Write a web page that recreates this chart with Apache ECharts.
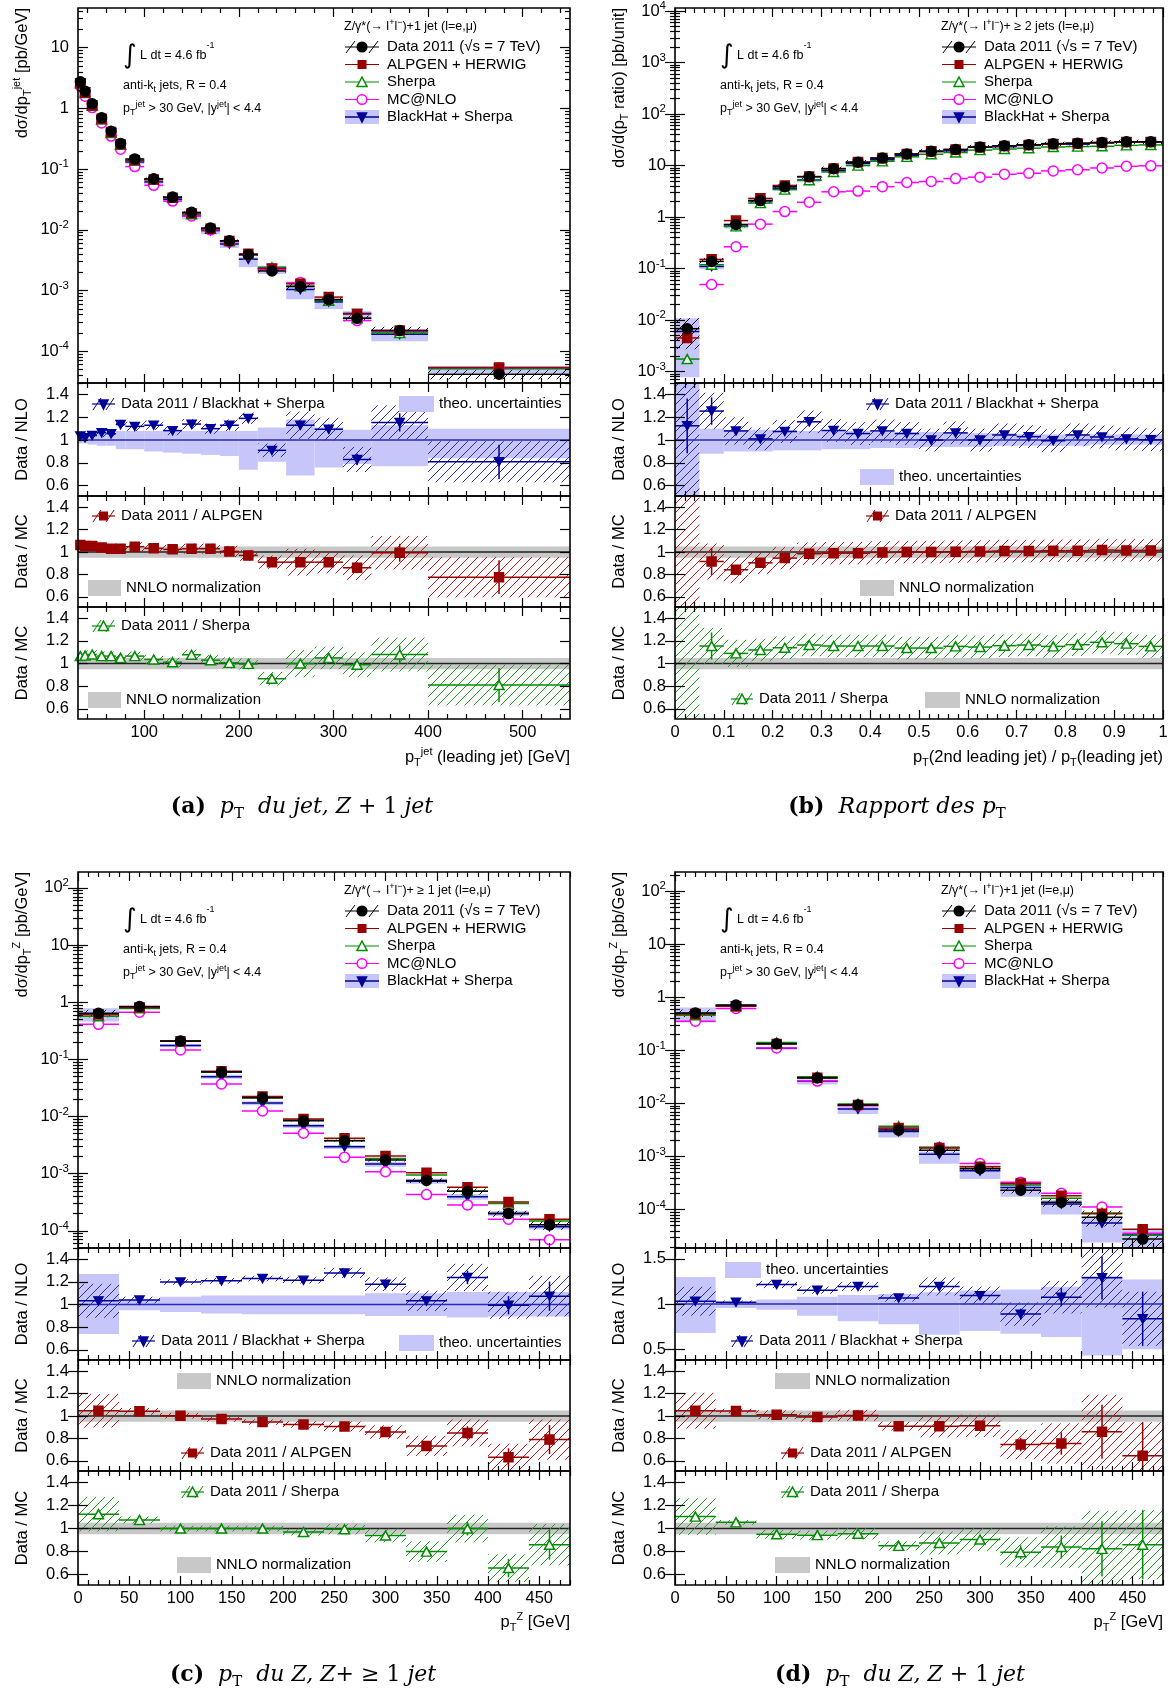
<!DOCTYPE html>
<html><head><meta charset="utf-8">
<script src="https://cdn.jsdelivr.net/npm/echarts@6/dist/echarts.min.js"></script>
<style>html,body{margin:0;padding:0;background:#fff}#c{width:1173px;height:1690px}</style>
</head><body><div id="c"></div>
<script>
// ================= DATA =================
// ---- Panel (a): leading jet pT, Z + 1 jet ----
const aEdges = [30,35,40,50,60,70,80,100,120,140,160,180,200,220,250,280,310,340,400,550];
const aData = [2.75,1.92,1.19,0.70,0.42,0.265,0.147,0.0695,0.0346,0.0194,0.0107,0.0066,0.0039,0.0021,0.00117,0.00071,0.00035,0.00022,0.000042];
const aAlpgen = [2.59,1.82,1.13,0.673,0.408,0.257,0.140,0.0673,0.0338,0.0188,0.0104,0.00656,0.00402,0.00231,0.00129,0.00078,0.00041,0.00022,0.000054];
const aSherpa = [2.58,1.79,1.10,0.657,0.394,0.252,0.138,0.0671,0.0342,0.0180,0.0104,0.00656,0.00391,0.00242,0.00117,0.00068,0.00035,0.00020,0.000052];
const aMcnlo = [2.31,1.59,1.03,0.577,0.35,0.212,0.110,0.054,0.0297,0.0169,0.0100,0.00637,0.00386,0.00223,0.00135,0.00071,0.00032,0.00021,0.000053];
const aBlackhat = [2.65,1.88,1.14,0.657,0.398,0.233,0.131,0.0615,0.0319,0.0170,0.0097,0.00584,0.00328,0.00231,0.00104,0.00065,0.00042,0.00019,0.000052];
const aTheoHi = [1.05,1.05,1.06,1.06,1.06,1.08,1.08,1.08,1.08,1.08,1.08,1.08,1.08,1.11,1.18,1.11,1.09,1.13,1.10];
const aTheoLo = [0.97,0.97,0.96,0.95,0.95,0.92,0.92,0.90,0.89,0.88,0.87,0.86,0.74,0.81,0.69,0.76,0.79,0.77,0.84];
const aRatioNLO = [1.036,1.02,1.04,1.065,1.056,1.136,1.12,1.13,1.083,1.14,1.10,1.13,1.19,0.91,1.13,1.095,0.83,1.155,0.81];
const aRatioAlpgen = [1.063,1.054,1.054,1.04,1.03,1.03,1.048,1.033,1.024,1.03,1.03,1.006,0.97,0.91,0.91,0.91,0.86,0.994,0.776];
const aRatioSherpa = [1.066,1.07,1.08,1.066,1.066,1.05,1.066,1.036,1.012,1.078,1.03,1.006,0.997,0.866,1.0,1.05,0.99,1.08,0.81];
const aDataUnc = [0.04,0.04,0.04,0.04,0.04,0.04,0.04,0.04,0.04,0.045,0.045,0.05,0.05,0.06,0.12,0.10,0.11,0.15,0.18];
const aStatErr = [0.005,0.005,0.005,0.006,0.007,0.008,0.008,0.01,0.01,0.012,0.015,0.02,0.025,0.02,0.04,0.04,0.05,0.08,0.15];
const aXTicks = [100,200,300,400,500];
const aYTicks = [1e-4,1e-3,1e-2,1e-1,1,10];

// ---- Panel (b): pT ratio ----
const bEdges = [0,0.05,0.1,0.15,0.2,0.25,0.3,0.35,0.4,0.45,0.5,0.55,0.6,0.65,0.7,0.75,0.8,0.85,0.9,0.95,1.0];
const bData = [0.0068,0.138,0.72,2.09,3.9,6.05,8.7,11.6,14.0,16.8,18.9,20.6,22.9,24.3,25.4,26.5,27.3,28.2,29.0,29.0];
const bAlpgen = [0.0045,0.151,0.855,2.31,4.12,6.14,8.79,11.7,14.0,16.8,18.9,20.5,22.8,24.1,25.2,26.2,27.0,27.7,28.6,28.6];
const bSherpa = [0.00175,0.119,0.66,1.87,3.42,5.2,7.53,10.0,12.1,14.8,16.6,17.9,20.0,21.0,21.8,23.0,23.4,23.7,24.7,25.2];
const bMcnlo = [null,0.049,0.265,0.73,1.28,1.94,3.1,3.2,3.9,4.7,4.9,5.6,5.97,6.8,7.1,7.9,8.3,9.0,9.7,9.9];
const bBlackhat = [0.0060,0.110,0.667,2.07,3.63,5.22,8.03,11.0,13.0,15.9,18.9,19.4,22.9,23.3,24.7,26.7,26.1,27.5,28.7,28.9];
const bTheoHi = [1.8,1.10,1.09,1.09,1.09,1.08,1.08,1.08,1.07,1.07,1.07,1.06,1.06,1.06,1.05,1.05,1.05,1.05,1.05,1.05];
const bTheoLo = [0.13,0.88,0.90,0.90,0.91,0.91,0.92,0.92,0.93,0.93,0.94,0.94,0.94,0.95,0.95,0.95,0.95,0.96,0.96,0.96];
const bRatioNLO = [1.125,1.254,1.08,1.01,1.075,1.16,1.084,1.057,1.08,1.057,1.0,1.063,1.0,1.045,1.03,0.994,1.045,1.027,1.01,1.003];
const bRatioAlpgen = [null,0.916,0.842,0.904,0.946,0.985,0.99,0.99,0.997,1.0,1.0,1.003,1.006,1.009,1.009,1.012,1.012,1.018,1.015,1.015];
const bRatioSherpa = [null,1.155,1.09,1.12,1.14,1.164,1.155,1.155,1.155,1.137,1.137,1.152,1.146,1.158,1.164,1.152,1.167,1.188,1.176,1.152];
const bDataUnc = [3,0.16,0.12,0.1,0.1,0.1,0.1,0.1,0.1,0.1,0.1,0.1,0.1,0.1,0.1,0.1,0.1,0.1,0.1,0.1];
const bStatErr = [0.24,0.12,0.03,0.015,0.01,0.01,0.01,0.01,0.01,0.01,0.01,0.01,0.01,0.01,0.01,0.01,0.01,0.01,0.01,0.01];
const bXTicks = [0,0.1,0.2,0.3,0.4,0.5,0.6,0.7,0.8,0.9,1];
const bYTicks = [1e-3,1e-2,1e-1,1,10,100,1000,10000];

// ---- Panel (c): Z pT, Z + >=1 jet ----
const cEdges = [0,40,80,120,160,200,240,280,320,360,400,440,480];
const cData = [0.64,0.84,0.209,0.060,0.0212,0.0084,0.00377,0.00174,0.00076,0.00049,0.00020,0.000127];
const cAlpgen = [0.61,0.81,0.208,0.0617,0.0224,0.00908,0.00416,0.00203,0.00104,0.00058,0.00032,0.00016];
const cSherpa = [0.57,0.78,0.209,0.060,0.0212,0.0087,0.0038,0.00185,0.00095,0.00049,0.00030,0.000148];
const cMcnlo = [0.41,0.67,0.146,0.037,0.0125,0.0051,0.00193,0.00108,0.00043,0.000284,0.00016,0.00007];
const cBlackhat = [0.62,0.81,0.174,0.0496,0.0172,0.0069,0.00295,0.00147,0.00074,0.000395,0.00020,0.000118];
const cTheoHi = [1.27,1.04,1.07,1.08,1.08,1.08,1.08,1.10,1.10,1.11,1.11,1.11];
const cTheoLo = [0.74,0.95,0.935,0.92,0.915,0.915,0.915,0.90,0.90,0.885,0.895,0.895];
const cRatioNLO = [1.033,1.04,1.20,1.21,1.23,1.216,1.28,1.18,1.033,1.24,0.994,1.074];
const cRatioAlpgen = [1.048,1.042,1.003,0.973,0.946,0.925,0.907,0.857,0.734,0.85,0.633,0.79];
const cRatioSherpa = [1.125,1.075,1.0,1.0,1.0,0.97,0.994,0.94,0.80,1.0,0.657,0.86];
const cDataUnc = [0.15,0.03,0.025,0.025,0.025,0.03,0.045,0.06,0.09,0.12,0.12,0.18];
const cStatErr = [0.01,0.005,0.005,0.008,0.01,0.012,0.02,0.025,0.03,0.06,0.08,0.13];
const cXTicks = [0,50,100,150,200,250,300,350,400,450];
const cYTicks = [1e-4,1e-3,1e-2,1e-1,1,10,100];

// ---- Panel (d): Z pT, Z + 1 jet ----
const dEdges = [0,40,80,120,160,200,240,280,320,360,400,440,480];
const dData = [0.51,0.715,0.134,0.0303,0.0094,0.00316,0.00132,0.00059,0.000233,0.000138,0.000072,0.000028];
const dAlpgen = [0.487,0.684,0.132,0.0306,0.00934,0.00347,0.00145,0.000646,0.000312,0.000183,0.000084,0.000043];
const dSherpa = [0.462,0.678,0.141,0.0321,0.00984,0.00372,0.00151,0.00065,0.000293,0.000164,0.000087,0.000033];
const dMcnlo = [0.356,0.62,0.111,0.0265,0.0091,0.0034,0.00148,0.00074,0.00033,0.000204,0.000112,0.000036];
const dBlackhat = [0.495,0.70,0.110,0.0263,0.00787,0.00296,0.00111,0.00054,0.000262,0.000128,0.000056,0.0000335];
const dTheoHi = [1.30,1.02,1.05,1.08,1.10,1.11,1.13,1.15,1.16,1.19,1.31,1.27];
const dTheoLo = [0.68,0.955,0.935,0.87,0.81,0.775,0.66,0.70,0.67,0.635,0.43,0.50];
const dRatioNLO = [1.03,1.019,1.216,1.153,1.194,1.067,1.194,1.093,0.888,1.075,1.29,0.836];
const dRatioAlpgen = [1.048,1.045,1.012,0.991,1.006,0.91,0.91,0.913,0.746,0.755,0.86,0.645];
const dRatioSherpa = [1.104,1.054,0.95,0.943,0.955,0.85,0.875,0.905,0.794,0.84,0.824,0.86];
const dDataUnc = [0.16,0.02,0.04,0.04,0.05,0.04,0.1,0.1,0.13,0.18,0.33,0.3];
const dStatErr = [0.01,0.005,0.01,0.01,0.015,0.02,0.03,0.04,0.06,0.1,0.24,0.3];
const dXTicks = [0,50,100,150,200,250,300,350,400,450];
const dYTicks = [1e-4,1e-3,1e-2,1e-1,1,10,100];

const ratioTicks = [0.6,0.8,1,1.2,1.4];
const dR1Ticks = [0.5,1,1.5];

// ================= STYLE / LAYOUT =================
const FONT = "'Liberation Sans', Arial, Helvetica, sans-serif";
const SERIF = "'DejaVu Serif', 'Liberation Serif', serif";
const COL = {data:'#000000', alp:'#990000', she:'#008c00', mc:'#ff00ff', bh:'#000099', bhLine:'#2a2ab4',
  theo:'#c6c6fa', nnlo:'#c8c8c8', hBlue:'#2a2ad0', hRed:'#c01818', hGreen:'#209a20'};
const COLS = [{L:78, R:570}, {L:675, R:1163}];
const ROWS = [{top:8, m:383, r1:496, r2:607, r3:719, xt:757, cap:807},
              {top:872, m:1248, r1:1360, r2:1471, r3:1585, xt:1622, cap:1675}];

const option = {animation:false, backgroundColor:'#ffffff', grid:[], xAxis:[], yAxis:[], series:[], graphic:{elements:[]}};
const GE = option.graphic.elements;

const LOGRICH = {b:{fontFamily:FONT, fontSize:16.5, lineHeight:22, color:'#000'},
                 s:{fontFamily:FONT, fontSize:11.5, lineHeight:12, verticalAlign:'top', color:'#000'}};
function logFmt(v){ const e = Math.round(Math.log10(v)); if (e===0) return '{b|1}'; if (e===1) return '{b|10}'; return '{b|10}{s|'+e+'}'; }
function logMinor(min,max){ const out=[]; for(let e=Math.floor(Math.log10(min)); e<=Math.ceil(Math.log10(max)); e++){ for(let k=2;k<=9;k++){ const v=k*Math.pow(10,e); if(v>=min&&v<=max) out.push(v);} } return out; }
function linMinor(min,max,step,major){ const out=[]; for(let k=Math.ceil(min/step-1e-9); k*step<=max+1e-9; k++){ const v=+(k*step).toFixed(6); if(!major.some(m=>Math.abs(m-v)<1e-9)) out.push(v);} return out; }

function mkAxis(gi,pos,a,vals,len,labels,margin){
  return {type:a.type, gridIndex:gi, position:pos, min:a.min, max:a.max, logBase:10,
    axisLine:{show:false}, splitLine:{show:false}, minorTick:{show:false}, minorSplitLine:{show:false},
    axisTick:{show:true, inside:true, length:len, customValues:vals, lineStyle:{color:'#000', width:1.2}},
    axisLabel:{show:!!labels, customValues:vals, formatter:a.fmt||undefined, rich:a.rich||undefined, margin:margin||8,
      fontFamily:FONT, fontSize:16.5, color:'#000', hideOverlap:false, showMinLabel:true, showMaxLabel:true},
    z:5};
}
function addGrid(L,T,R,B,xa,ya){
  const gi = option.grid.length;
  option.grid.push({left:L, top:T, width:R-L, height:B-T, show:false, containLabel:false, outerBoundsMode:'none'});
  const xi = option.xAxis.length, yi = option.yAxis.length;
  option.xAxis.push(mkAxis(gi,'bottom',xa,xa.major,9,xa.labels,5));
  option.xAxis.push(mkAxis(gi,'top',xa,xa.major,9,false));
  if (xa.minor.length){ option.xAxis.push(mkAxis(gi,'bottom',xa,xa.minor,5,false)); option.xAxis.push(mkAxis(gi,'top',xa,xa.minor,5,false)); }
  option.yAxis.push(mkAxis(gi,'left',ya,ya.major,10,true,9));
  option.yAxis.push(mkAxis(gi,'right',ya,ya.major,10,false));
  if (ya.minor.length){ option.yAxis.push(mkAxis(gi,'left',ya,ya.minor,5,false)); option.yAxis.push(mkAxis(gi,'right',ya,ya.minor,5,false)); }
  GE.push({type:'rect', z:100, silent:true, shape:{x:L,y:T,width:R-L,height:B-T}, style:{fill:'none', stroke:'#000', lineWidth:1.6}});
  return {xi, yi};
}

function clampRect(params, api, x0,x1,y0,y1){
  const p0 = api.coord([x0,y0]), p1 = api.coord([x1,y1]); const cs = params.coordSys;
  const a = Math.max(Math.min(p0[0],p1[0]), cs.x), b = Math.min(Math.max(p0[0],p1[0]), cs.x+cs.width);
  const c = Math.max(Math.min(p0[1],p1[1]), cs.y), d = Math.min(Math.max(p0[1],p1[1]), cs.y+cs.height);
  return (b>a && d>c) ? [a,b,c,d] : null;
}
function bandSeries(g, items, color){
  option.series.push({type:'custom', xAxisIndex:g.xi, yAxisIndex:g.yi, silent:true, clip:true, data:items,
    encode:{x:[0,1], y:[2,3]},
    renderItem(params, api){
      const r = clampRect(params, api, api.value(0), api.value(1), api.value(2), api.value(3));
      if (!r) return null;
      return {type:'rect', shape:{x:r[0], y:r[2], width:r[1]-r[0], height:r[3]-r[2]}, style:{fill:color}};
    }});
}
function hatchSeries(g, items, color){
  option.series.push({type:'custom', xAxisIndex:g.xi, yAxisIndex:g.yi, silent:true, clip:true, data:items,
    encode:{x:[0,1], y:[2,3]},
    renderItem(params, api){
      const r = clampRect(params, api, api.value(0), api.value(1), api.value(2), api.value(3));
      if (!r) return null;
      const [x0,x1,y0,y1] = r, s = 9, ch = [];
      for (let c = Math.ceil((x0+y0)/s)*s; c <= x1+y1; c += s){
        const xa = Math.max(x0, c-y1), xb = Math.min(x1, c-y0);
        if (xb > xa + 0.5) ch.push({type:'line', shape:{x1:xa, y1:c-xa, x2:xb, y2:c-xb}, style:{stroke:color, lineWidth:1}});
      }
      return {type:'group', children:ch};
    }});
}
function barSeries(g, items, color, w){
  option.series.push({type:'custom', xAxisIndex:g.xi, yAxisIndex:g.yi, silent:true, clip:true, data:items,
    encode:{x:[0,1], y:[2]},
    renderItem(params, api){
      const cs = params.coordSys, ch = [];
      const p0 = api.coord([api.value(0), api.value(2)]), p1 = api.coord([api.value(1), api.value(2)]);
      if (p0[1] >= cs.y && p0[1] <= cs.y+cs.height)
        ch.push({type:'line', shape:{x1:p0[0], y1:p0[1], x2:p1[0], y2:p1[1]}, style:{stroke:color, lineWidth:w}});
      const lo = api.value(3), hi = api.value(4);
      if (isFinite(lo) && isFinite(hi)){
        const xc = (api.value(0)+api.value(1))/2;
        const q0 = api.coord([xc, lo]), q1 = api.coord([xc, hi]);
        const ya = Math.min(Math.max(q0[1], cs.y), cs.y+cs.height), yb = Math.min(Math.max(q1[1], cs.y), cs.y+cs.height);
        if (Math.abs(ya-yb) > 0.5) ch.push({type:'line', shape:{x1:q0[0], y1:ya, x2:q1[0], y2:yb}, style:{stroke:color, lineWidth:w}});
      }
      return {type:'group', children:ch};
    }});
}
function markerSeries(g, pts, symbol, size, fill, stroke, rot){
  option.series.push({type:'scatter', xAxisIndex:g.xi, yAxisIndex:g.yi, silent:true, clip:true, data:pts,
    symbol, symbolSize:size, symbolRotate:rot||0, z:3,
    itemStyle:{color:fill, borderColor:stroke, borderWidth:1.5, opacity:1}});
}

// ---------- graphic helpers ----------
function richSet(size){
  return {
    n:{fontFamily:FONT, fontSize:size, fill:'#000', lineHeight:Math.round(size*1.35)},
    sup:{fontFamily:FONT, fontSize:Math.round(size*0.68), fill:'#000', verticalAlign:'top', lineHeight:Math.round(size*0.72)},
    sub:{fontFamily:FONT, fontSize:Math.round(size*0.68), fill:'#000', verticalAlign:'bottom', lineHeight:Math.round(size*0.72)},
    int:{fontFamily:"'DejaVu Sans', sans-serif", fontSize:Math.round(size*2.1), fill:'#000', lineHeight:Math.round(size*2.3)}
  };
}
const R13 = richSet(12.5), R15 = richSet(15), R165 = richSet(16.5);
function gText(x,y,text,rich,opts){ opts=opts||{};
  GE.push({type:'text', x, y, z:120, silent:true, rotation:opts.rot||0,
    style:{text, rich, fontFamily:FONT, fontSize:15, fill:'#000', align:opts.align||'left', verticalAlign:opts.va||'middle'}}); }
function gLine(x1,y1,x2,y2,color,w){ GE.push({type:'line', z:112, silent:true, shape:{x1,y1,x2,y2}, style:{stroke:color, lineWidth:w||1.5}}); }
function gRect(x,y,w,h,fill,z){ GE.push({type:'rect', z:z||110, silent:true, shape:{x,y,width:w,height:h}, style:{fill}}); }
function gCircle(cx,cy,r,fill,stroke){ GE.push({type:'circle', z:114, silent:true, shape:{cx,cy,r}, style:{fill, stroke, lineWidth:1.5}}); }
function gPoly(points,fill,stroke){ GE.push({type:'polygon', z:114, silent:true, shape:{points}, style:{fill, stroke, lineWidth:1.5}}); }
function gMarker(kind, cx, cy){
  if (kind==='data') gCircle(cx,cy,4.8,'#000','#000');
  else if (kind==='alp') gRect(cx-4.5,cy-4.5,9,9,COL.alp,114);
  else if (kind==='she') gPoly([[cx,cy-5],[cx+5,cy+4.5],[cx-5,cy+4.5]],'#fff',COL.she);
  else if (kind==='mc') gCircle(cx,cy,4.8,'#fff',COL.mc);
  else if (kind==='bh') gPoly([[cx-4.5,cy-4],[cx+4.5,cy-4],[cx,cy+5]],COL.bh,COL.bh);
}
function ratioMark(x0,x1,y,color,kind){
  gLine(x0,y,x1,y,color,1.2);
  gLine(x0+1,y+6,x0+9,y-6,color,1); gLine(x1-9,y+6,x1-1,y-6,color,1);
  gMarker(kind,(x0+x1)/2,y);
}

// ================= PANEL BUILDER =================
function buildPanel(P){
  const Cc = COLS[P.col], RW = ROWS[P.row], L = Cc.L, R = Cc.R, E = P.edges, n = E.length-1;
  const ctr = i => (E[i]+E[i+1])/2;
  const xa = {type:'value', min:P.xMin, max:P.xMax, major:P.xMajor, minor:linMinor(P.xMin,P.xMax,P.xMinorStep,P.xMajor)};
  const ratioY = (min,max,t) => ({type:'value', min, max, major:t, minor:[]});
  const gM = addGrid(L,RW.top,R,RW.m, Object.assign({},xa,{labels:false}),
    {type:'log', min:P.yMin, max:P.yMax, major:P.yMajor, minor:logMinor(P.yMin,P.yMax), fmt:logFmt, rich:LOGRICH});
  const g1 = addGrid(L,RW.m,R,RW.r1, Object.assign({},xa,{labels:false}), ratioY(P.r1Min,P.r1Max,P.r1Ticks));
  const g2 = addGrid(L,RW.r1,R,RW.r2, Object.assign({},xa,{labels:false}), ratioY(0.51,1.5,ratioTicks));
  const g3 = addGrid(L,RW.r2,R,RW.r3, Object.assign({},xa,{labels:true}), ratioY(0.51,1.5,ratioTicks));

  // ---- main panel ----
  const band=[], hatch=[];
  for (let i=0;i<n;i++){
    band.push([E[i],E[i+1],P.blackhat[i]*P.theoLo[i],P.blackhat[i]*P.theoHi[i]]);
    const u = Math.min(P.dataUnc[i],0.6);
    hatch.push([E[i],E[i+1],P.data[i]*(1-u),P.data[i]*(1+u)]);
  }
  bandSeries(gM, band, COL.theo);
  hatchSeries(gM, hatch, '#000');
  const bins = arr => arr.map((v,i)=> v==null?null:[E[i],E[i+1],v]).filter(Boolean);
  const pts = arr => arr.map((v,i)=> v==null?null:[ctr(i),v]).filter(Boolean);
  [[P.blackhat,COL.bh],[P.mcnlo,COL.mc],[P.sherpa,COL.she],[P.alpgen,COL.alp],[P.data,'#000']].forEach(([a,c])=>barSeries(gM,bins(a),c,1.5));
  markerSeries(gM, pts(P.blackhat), 'triangle', [9,8], COL.bh, COL.bh, 180);
  markerSeries(gM, pts(P.mcnlo), 'circle', 10, '#fff', COL.mc);
  markerSeries(gM, pts(P.sherpa), 'triangle', [10,9], '#fff', COL.she);
  markerSeries(gM, pts(P.alpgen), 'rect', 9, COL.alp, COL.alp);
  markerSeries(gM, pts(P.data), 'circle', 10, '#000', '#000');

  // ---- ratio panels ----
  function ratioPanel(g, ratio, color, hcol, lineCol, theo){
    if (theo) bandSeries(g, E.slice(0,n).map((e,i)=>[E[i],E[i+1],P.theoLo[i],P.theoHi[i]]), COL.theo);
    else bandSeries(g, [[P.xMin,P.xMax,0.95,1.05]], COL.nnlo);
    barSeries(g, [[P.xMin,P.xMax,1]], lineCol, 1.5);
    hatchSeries(g, ratio.map((r,i)=>{ const c = (r==null)?1:r; return [E[i],E[i+1],c-P.dataUnc[i],c+P.dataUnc[i]]; }), hcol);
    barSeries(g, ratio.map((r,i)=> r==null?null:[E[i],E[i+1],r,r-P.statErr[i],r+P.statErr[i]]).filter(Boolean), color, 1.5);
  }
  ratioPanel(g1, P.rNLO, COL.bh, COL.hBlue, COL.bhLine, true);
  markerSeries(g1, pts(P.rNLO), 'triangle', [9,8], COL.bh, COL.bh, 180);
  ratioPanel(g2, P.rAlp, COL.alp, COL.hRed, '#222', false);
  markerSeries(g2, pts(P.rAlp), 'rect', 9, COL.alp, COL.alp);
  ratioPanel(g3, P.rShe, COL.she, COL.hGreen, '#222', false);
  markerSeries(g3, pts(P.rShe), 'triangle', [10,9], '#fff', COL.she);

  // ---- main legend & annotations ----
  const T0 = RW.top, x0 = L+267, x1 = L+301, xc = (x0+x1)/2, xt = L+309;
  gText(L+266, T0+19, P.zText, R13);
  const rows = [0,1,2,3,4].map(k=>T0+39+k*17.5);
  gRect(x0, rows[4]-7, x1-x0, 14, COL.theo);
  gLine(x0,rows[0],x1,rows[0],'#000',1.2); gLine(x0+1,rows[0]+6,x0+10,rows[0]-6,'#000',1); gLine(x1-10,rows[0]+6,x1-1,rows[0]-6,'#000',1);
  gLine(x0,rows[1],x1,rows[1],COL.alp,1.2); gLine(x0,rows[2],x1,rows[2],COL.she,1.2);
  gLine(x0,rows[3],x1,rows[3],COL.mc,1.2); gLine(x0,rows[4],x1,rows[4],COL.bh,1.4);
  ['data','alp','she','mc','bh'].forEach((k,i)=>gMarker(k,xc,rows[i]));
  gText(xt, rows[0], '{n|Data 2011 (√s = 7 TeV)}', R15);
  gText(xt, rows[1], '{n|ALPGEN + HERWIG}', R15);
  gText(xt, rows[2], '{n|Sherpa}', R15);
  gText(xt, rows[3], '{n|MC@NLO}', R15);
  gText(xt, rows[4], '{n|BlackHat + Sherpa}', R15);
  gText(L+45, T0+48, '{int|∫}{n| L dt = 4.6 fb}{sup|-1}', R13);
  gText(L+45, T0+78, '{n|anti-k}{sub|t}{n| jets, R = 0.4}', R13);
  gText(L+45, T0+101, '{n|p}{sub|T}{sup|jet}{n| > 30 GeV, |y}{sup|jet}{n|| < 4.4}', R13);

  // ---- axis titles ----
  const yx = L-56;
  gText(yx, T0, P.yTitle, R165, {rot:Math.PI/2, align:'right'});
  gText(yx, (RW.m+RW.r1)/2, '{n|Data / NLO}', R165, {rot:Math.PI/2, align:'center'});
  gText(yx, (RW.r1+RW.r2)/2, '{n|Data / MC}', R165, {rot:Math.PI/2, align:'center'});
  gText(yx, (RW.r2+RW.r3)/2, '{n|Data / MC}', R165, {rot:Math.PI/2, align:'center'});
  gText(R, RW.xt, P.xTitle, R165, {align:'right'});
  gText(P.capX, RW.cap, P.caption, CAPRICH, {align:'center'});

  // ---- ratio legends ----
  P.rLeg(L, RW);
}

const CAPRICH = {
  b:{fontFamily:SERIF, fontSize:22, fontWeight:'bold', fill:'#000', lineHeight:30},
  i:{fontFamily:SERIF, fontSize:22, fontStyle:'italic', fill:'#000', lineHeight:30},
  r:{fontFamily:SERIF, fontSize:22, fill:'#000', lineHeight:30},
  s:{fontFamily:SERIF, fontSize:15, fill:'#000', verticalAlign:'bottom', lineHeight:17}
};

function legMark(L,T,dx0,dx1,dy,text,color,kind){ ratioMark(L+dx0,L+dx1,T+dy,color,kind); gText(L+dx1+6,T+dy,'{n|'+text+'}',R15); }
function legBox(L,T,dx0,dx1,dy,text,fill){ gRect(L+dx0,T+dy-8,dx1-dx0,16,fill); gText(L+dx1+5,T+dy,'{n|'+text+'}',R15); }

const panels = [
 {col:0,row:0, edges:aEdges, xMin:30, xMax:550, xMajor:aXTicks, xMinorStep:20, yMin:3e-5, yMax:45, yMajor:aYTicks,
  r1Min:0.51, r1Max:1.5, r1Ticks:ratioTicks,
  data:aData, alpgen:aAlpgen, sherpa:aSherpa, mcnlo:aMcnlo, blackhat:aBlackhat, theoLo:aTheoLo, theoHi:aTheoHi,
  rNLO:aRatioNLO, rAlp:aRatioAlpgen, rShe:aRatioSherpa, dataUnc:aDataUnc, statErr:aStatErr,
  zText:'{n|Z/γ*(→ l}{sup|+}{n|l}{sup|−}{n|)+1 jet (l=e,μ)}',
  yTitle:'{n|dσ/dp}{sub|T}{sup|jet}{n| [pb/GeV]}',
  xTitle:'{n|p}{sub|T}{sup|jet}{n| (leading jet) [GeV]}',
  caption:'{b|(a)}{r|  }{i|p}{s|T}{r|  }{i|du jet, Z}{r| + 1 }{i|jet}', capX:302,
  rLeg(L,RW){
    legMark(L,RW.m,14,37,21,'Data 2011 / Blackhat + Sherpa',COL.bh,'bh'); legBox(L,RW.m,321,356,21,'theo. uncertainties',COL.theo);
    legMark(L,RW.r1,14,37,20,'Data 2011 / ALPGEN',COL.alp,'alp'); legBox(L,RW.r1,10,43,92,'NNLO normalization',COL.nnlo);
    legMark(L,RW.r2,14,37,19,'Data 2011 / Sherpa',COL.she,'she'); legBox(L,RW.r2,10,43,93,'NNLO normalization',COL.nnlo);
  }},
 {col:1,row:0, edges:bEdges, xMin:0, xMax:1, xMajor:bXTicks, xMinorStep:0.02, yMin:6e-4, yMax:1.15e4, yMajor:bYTicks,
  r1Min:0.51, r1Max:1.5, r1Ticks:ratioTicks,
  data:bData, alpgen:bAlpgen, sherpa:bSherpa, mcnlo:bMcnlo, blackhat:bBlackhat, theoLo:bTheoLo, theoHi:bTheoHi,
  rNLO:bRatioNLO, rAlp:bRatioAlpgen, rShe:bRatioSherpa, dataUnc:bDataUnc, statErr:bStatErr,
  zText:'{n|Z/γ*(→ l}{sup|+}{n|l}{sup|−}{n|)+ ≥ 2 jets (l=e,μ)}',
  yTitle:'{n|dσ/d(p}{sub|T}{n| ratio) [pb/unit]}',
  xTitle:'{n|p}{sub|T}{n|(2nd leading jet) / p}{sub|T}{n|(leading jet)}',
  caption:'{b|(b)}{r|  }{i|Rapport des p}{s|T}', capX:897,
  rLeg(L,RW){
    legMark(L,RW.m,191,214,21,'Data 2011 / Blackhat + Sherpa',COL.bh,'bh'); legBox(L,RW.m,185,219,94,'theo. uncertainties',COL.theo);
    legMark(L,RW.r1,191,214,20,'Data 2011 / ALPGEN',COL.alp,'alp'); legBox(L,RW.r1,185,219,92,'NNLO normalization',COL.nnlo);
    legMark(L,RW.r2,56,78,92,'Data 2011 / Sherpa',COL.she,'she'); legBox(L,RW.r2,250,285,93,'NNLO normalization',COL.nnlo);
  }},
 {col:0,row:1, edges:cEdges, xMin:0, xMax:480, xMajor:cXTicks, xMinorStep:10, yMin:5e-5, yMax:190, yMajor:cYTicks,
  r1Min:0.51, r1Max:1.5, r1Ticks:ratioTicks,
  data:cData, alpgen:cAlpgen, sherpa:cSherpa, mcnlo:cMcnlo, blackhat:cBlackhat, theoLo:cTheoLo, theoHi:cTheoHi,
  rNLO:cRatioNLO, rAlp:cRatioAlpgen, rShe:cRatioSherpa, dataUnc:cDataUnc, statErr:cStatErr,
  zText:'{n|Z/γ*(→ l}{sup|+}{n|l}{sup|−}{n|)+ ≥ 1 jet (l=e,μ)}',
  yTitle:'{n|dσ/dp}{sub|T}{sup|Z}{n| [pb/GeV]}',
  xTitle:'{n|p}{sub|T}{sup|Z}{n| [GeV]}',
  caption:'{b|(c)}{r|  }{i|p}{s|T}{r|  }{i|du Z, Z}{r|+ ≥ 1 }{i|jet}', capX:303,
  rLeg(L,RW){
    legMark(L,RW.m,54,77,93,'Data 2011 / Blackhat + Sherpa',COL.bh,'bh'); legBox(L,RW.m,321,356,95,'theo. uncertainties',COL.theo);
    legBox(L,RW.r1,99,133,21,'NNLO normalization',COL.nnlo); legMark(L,RW.r1,103,126,93,'Data 2011 / ALPGEN',COL.alp,'alp');
    legMark(L,RW.r2,103,126,21,'Data 2011 / Sherpa',COL.she,'she'); legBox(L,RW.r2,99,133,94,'NNLO normalization',COL.nnlo);
  }},
 {col:1,row:1, edges:dEdges, xMin:0, xMax:480, xMajor:dXTicks, xMinorStep:10, yMin:1.9e-5, yMax:230, yMajor:dYTicks,
  r1Min:0.38, r1Max:1.62, r1Ticks:dR1Ticks,
  data:dData, alpgen:dAlpgen, sherpa:dSherpa, mcnlo:dMcnlo, blackhat:dBlackhat, theoLo:dTheoLo, theoHi:dTheoHi,
  rNLO:dRatioNLO, rAlp:dRatioAlpgen, rShe:dRatioSherpa, dataUnc:dDataUnc, statErr:dStatErr,
  zText:'{n|Z/γ*(→ l}{sup|+}{n|l}{sup|−}{n|)+1 jet (l=e,μ)}',
  yTitle:'{n|dσ/dp}{sub|T}{sup|Z}{n| [pb/GeV]}',
  xTitle:'{n|p}{sub|T}{sup|Z}{n| [GeV]}',
  caption:'{b|(d)}{r|  }{i|p}{s|T}{r|  }{i|du Z, Z}{r| + 1 }{i|jet}', capX:900,
  rLeg(L,RW){
    legBox(L,RW.m,50,86,22,'theo. uncertainties',COL.theo); legMark(L,RW.m,56,78,93,'Data 2011 / Blackhat + Sherpa',COL.bh,'bh');
    legBox(L,RW.r1,100,135,21,'NNLO normalization',COL.nnlo); legMark(L,RW.r1,106,129,93,'Data 2011 / ALPGEN',COL.alp,'alp');
    legMark(L,RW.r2,106,129,21,'Data 2011 / Sherpa',COL.she,'she'); legBox(L,RW.r2,100,135,94,'NNLO normalization',COL.nnlo);
  }}
];
panels.forEach(buildPanel);

const chart = echarts.init(document.getElementById('c'), null, {renderer:'canvas', width:1173, height:1690});
chart.setOption(option);
</script></body></html>
